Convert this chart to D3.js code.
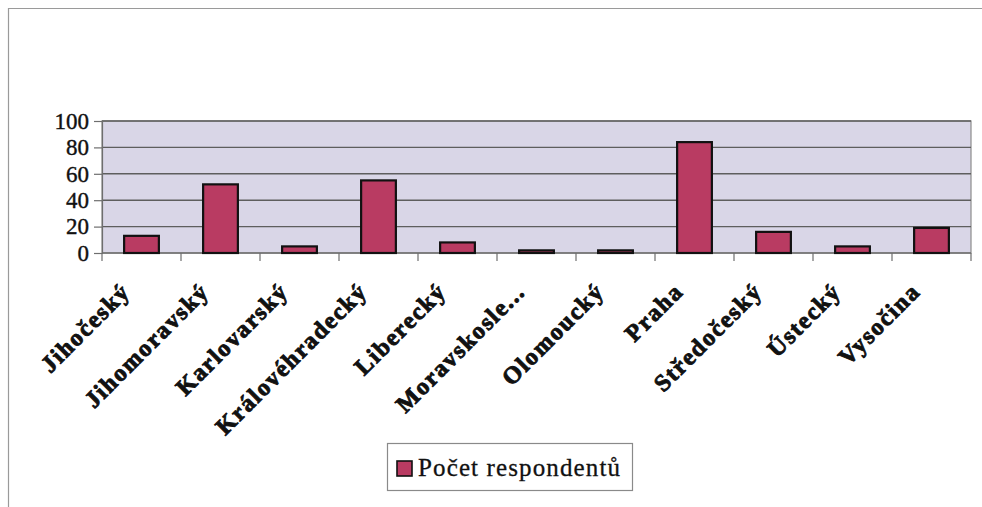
<!DOCTYPE html>
<html>
<head>
<meta charset="utf-8">
<script src="https://cdn.jsdelivr.net/npm/d3@7"></script>
<style>
  body { margin: 0; background: #fff; }
  svg { display: block; }
  svg text { font-family: "Liberation Serif", "Times New Roman", "DejaVu Serif", serif; }
</style>
</head>
<body>
<svg id="chart" width="982" height="507"></svg>
<script>
// kraje a počty respondentů
var regions = ["Jihočeský", "Jihomoravský", "Karlovarský", "Královéhradecký", "Liberecký",
               "Moravskosle...", "Olomoucký", "Praha", "Středočeský", "Ústecký", "Vysočina"];
var counts = [13, 52, 5, 55, 8, 2, 2, 84, 16, 5, 19];
var yTicks = [0, 20, 40, 60, 80, 100];
var seriesName = "Počet respondentů";

var svg = d3.select("#chart");
var plotLeft = 102, plotRight = 971, plotTop = 121, plotBottom = 253;

// outer chart frame (only top + left visible)
svg.append("path")
  .attr("d", "M8.5,507 V8.5 H982")
  .attr("fill", "none")
  .attr("stroke", "#9a9a9a")
  .attr("stroke-width", 1.2);

var x = d3.scaleBand().domain(regions).range([plotLeft, plotRight]).padding(0);
var y = d3.scaleLinear().domain([0, 100]).range([plotBottom, plotTop]);

// plot area
svg.append("rect")
  .attr("x", plotLeft).attr("y", plotTop)
  .attr("width", plotRight - plotLeft).attr("height", plotBottom - plotTop)
  .attr("fill", "#d9d6e7")
  .attr("stroke", "#8c8c8c")
  .attr("stroke-width", 1.2);

// gridlines
svg.append("g").selectAll("line")
  .data(yTicks.filter(function(d) { return d > 0; }))
  .join("line")
    .attr("x1", plotLeft).attr("x2", plotRight)
    .attr("y1", function(d) { return y(d); })
    .attr("y2", function(d) { return y(d); })
    .attr("stroke", "#5e5e5e")
    .attr("stroke-width", 1.4);

// y axis
var yAxis = svg.append("g")
  .attr("transform", "translate(" + plotLeft + ",0)")
  .call(d3.axisLeft(y).tickValues(yTicks).tickSize(8).tickPadding(5));
yAxis.attr("font-family", null);
yAxis.select(".domain").attr("stroke", "#6e6e6e").attr("stroke-width", 1.2);
yAxis.selectAll(".tick line").attr("stroke", "#6e6e6e").attr("stroke-width", 1.2);
yAxis.selectAll("text")
  .attr("font-size", 23)
  .attr("fill", "#111")
  .attr("stroke", "#111")
  .attr("stroke-width", 0.4);

// x axis baseline + ticks at category boundaries
svg.append("line")
  .attr("x1", plotLeft).attr("x2", plotRight)
  .attr("y1", plotBottom).attr("y2", plotBottom)
  .attr("stroke", "#6e6e6e").attr("stroke-width", 1.4);
var bounds = regions.map(function(d) { return x(d); }).concat([plotRight]);
svg.append("g").selectAll("line")
  .data(bounds)
  .join("line")
    .attr("x1", function(d) { return d; }).attr("x2", function(d) { return d; })
    .attr("y1", plotBottom).attr("y2", plotBottom + 8)
    .attr("stroke", "#6e6e6e").attr("stroke-width", 1.2);

// bars
var barW = x.bandwidth() * 0.44;
svg.append("g").selectAll("rect")
  .data(counts)
  .join("rect")
    .attr("x", function(d, i) { return x(regions[i]) + (x.bandwidth() - barW) / 2; })
    .attr("y", function(d) { return y(d); })
    .attr("width", barW)
    .attr("height", function(d) { return plotBottom - y(d); })
    .attr("fill", "#b93b62")
    .attr("stroke", "#111")
    .attr("stroke-width", 2.2);

// rotated category labels
svg.append("g").selectAll("text")
  .data(regions)
  .join("text")
    .attr("transform", function(d) {
      return "translate(" + (x(d) + x.bandwidth() / 2 - 10) + "," + 293 + ") rotate(-45)";
    })
    .attr("text-anchor", "end")
    .attr("font-weight", "bold")
    .attr("font-size", 24)
    .attr("letter-spacing", "1.6px")
    .attr("fill", "#111")
    .attr("stroke", "#111")
    .attr("stroke-width", 0.9)
    .text(function(d) { return d; });

// legend
var legend = svg.append("g");
legend.append("rect")
  .attr("x", 387.5).attr("y", 443.5)
  .attr("width", 245).attr("height", 47)
  .attr("fill", "#fff")
  .attr("stroke", "#8a8a8a")
  .attr("stroke-width", 1.2);
legend.append("rect")
  .attr("x", 397).attr("y", 461)
  .attr("width", 15).attr("height", 15)
  .attr("fill", "#b93b62")
  .attr("stroke", "#111")
  .attr("stroke-width", 1.6);
legend.append("text")
  .attr("x", 418).attr("y", 476)
  .attr("font-size", 25)
  .attr("textLength", 202)
  .attr("fill", "#111")
  .attr("stroke", "#111")
  .attr("stroke-width", 0.3)
  .text(seriesName);
</script>
</body>
</html>
